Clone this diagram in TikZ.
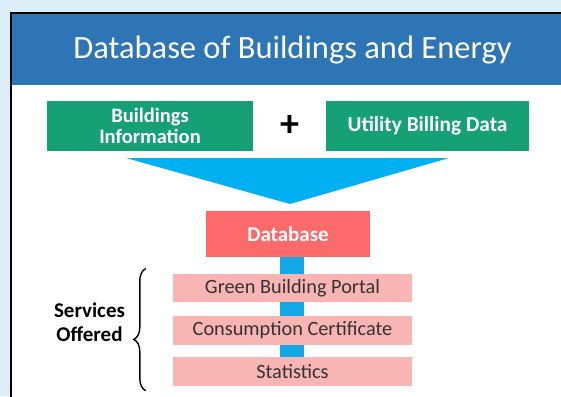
\documentclass[tikz,border=0pt]{standalone}
\usepackage{fontspec}
\setmainfont{Carlito}
\usetikzlibrary{positioning,calc,decorations.pathreplacing,backgrounds}
\definecolor{pageblue}{HTML}{DCEEF8}
\definecolor{headblue}{HTML}{2E75B6}
\definecolor{srcgreen}{HTML}{15A076}
\definecolor{funnelblue}{HTML}{00B0F0}
\definecolor{linkblue}{HTML}{12A8E8}
\definecolor{dbred}{HTML}{FC6A6A}
\definecolor{servpink}{HTML}{F9B4B4}
\definecolor{servtext}{HTML}{333333}

\begin{document}
\begin{tikzpicture}[x=1pt,y=-1pt]
          \tikzstyle{hnode} = [fill=headblue, text=white, anchor=north west, minimum width=560pt, minimum height=71pt, inner sep=0pt, font=\fontsize{32.5}{36}\selectfont]
          \tikzstyle{gnode} = [fill=srcgreen, text=white, minimum height=50pt, inner sep=0pt, align=center, font=\fontsize{20.5}{20.5}\selectfont\bfseries]
          \tikzstyle{dnode} = [fill=dbred, text=white, minimum width=164pt, minimum height=46pt, inner sep=0pt, font=\fontsize{21}{24}\selectfont\bfseries]
          \tikzstyle{snode} = [fill=servpink, text=servtext, minimum width=239pt, minimum height=28.5pt, inner sep=0pt, font=\fontsize{20.3}{24}\selectfont]
          \useasboundingbox (0,0) rectangle (561,396);
          \node[hnode] (head) at (12.25,14.25) {Database of Buildings and Energy};
          \node[gnode, minimum width=206pt] (binfo) at (150,126) {Buildings\\Information};
          \node[gnode, minimum width=203pt, font=\fontsize{21.3}{24}\selectfont\bfseries] (bill) at (427.5,126) {Utility Billing Data};
          \node[font=\fontsize{38}{38}\selectfont\bfseries] (plus) at (290,126) {+};
          \node[dnode] (db) at (288,234) {Database};
          \node[snode] (gbp) at (292.5,288) {Green Building Portal};
          \node[snode, below = 13.5pt of gbp] (cert) {Consumption Certificate};
          \node[snode, below = 12pt of cert] (stat) {Statistics};
          \node[align=center, font=\fontsize{21}{24}\selectfont\bfseries] (serv) at (89.5,322) {Services\\Offered};

          \draw[line width=1.4pt, decorate, decoration={brace, amplitude=12pt, aspect=0.42}]
            ([xshift=-27pt,yshift=-5pt]stat.south west) -- ([xshift=-27pt,yshift=5pt]gbp.north west);

          \begin{scope}[on background layer]
            \fill[pageblue] (0,0) rectangle (561,396);
            \fill[white] (11,13) rectangle (570,400);
            \draw[line width=2.5pt] (11,400) -- (11,13) -- (570,13);
            \fill[funnelblue] (126,158) -- (449,158) -- (290,204) -- cycle;
            \fill[linkblue] ($(db.south)+(-8pt,0)$) rectangle ($(stat.north)+(11pt,0)$);
          \end{scope}
        \end{tikzpicture}
\end{document}
